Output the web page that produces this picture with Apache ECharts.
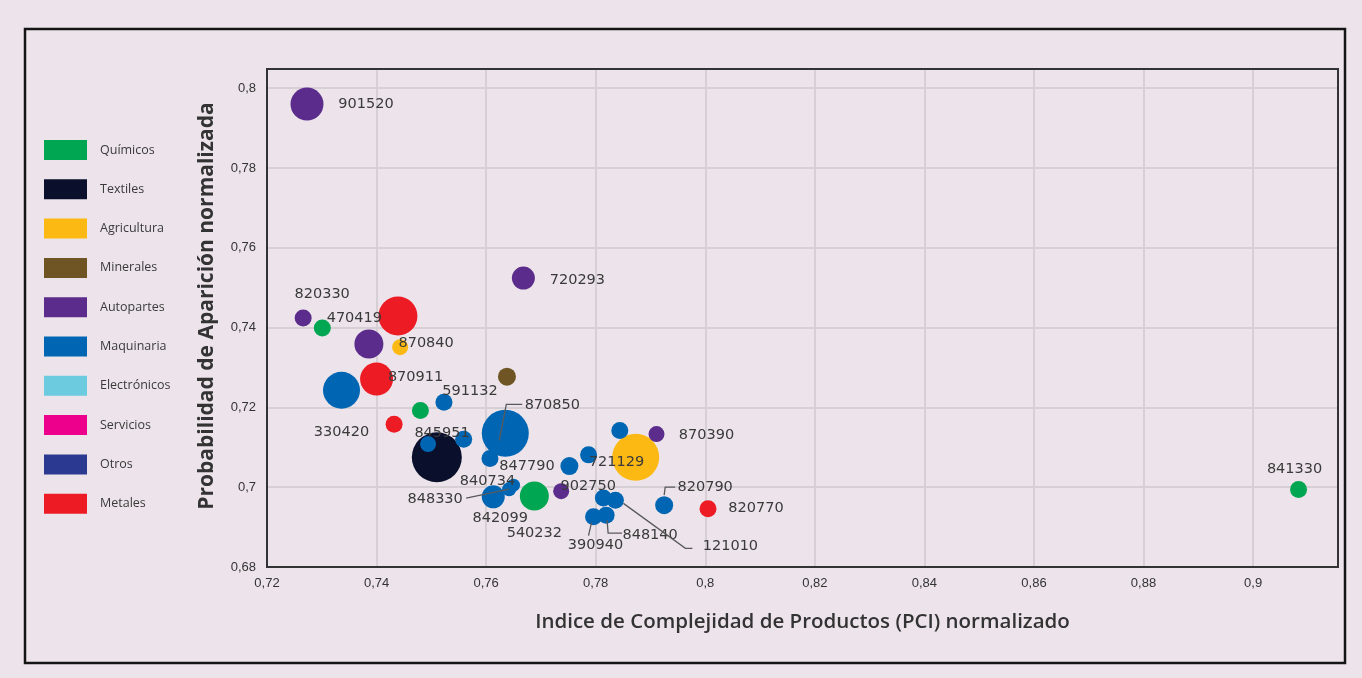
<!DOCTYPE html>
<html lang="es">
<head>
<meta charset="utf-8">
<title>Complejidad vs probabilidad de aparición</title>
<script src="https://cdn.jsdelivr.net/npm/echarts@6/dist/echarts.min.js"></script>
<style>
  html, body { margin: 0; padding: 0; background: #ece4ea; }
  #chart { width: 1362px; height: 678px; }
</style>
</head>
<body>
<div id="chart"></div>
<script>
// Sectores y colores de la leyenda
const categorias = ['Químicos', 'Textiles', 'Agricultura', 'Minerales', 'Autopartes',
  'Maquinaria', 'Electrónicos', 'Servicios', 'Otros', 'Metales'];
const colores = ['#00a651', '#0a0f2c', '#fdb913', '#6e5523', '#5b2c8b',
  '#0066b3', '#6dcbdf', '#ec008c', '#2b3990', '#ed1c24'];

// Productos: código SA ('' = sin etiqueta), PCI normalizado, probabilidad normalizada, peso relativo, sector
const codigos = ['901520', '720293', '820330', '470419', '', '', '870840', '870911', '330420', '',
  '591132', '', '', '845951', '', '', '870850', '847790', '', '840734',
  '848330', '842099', '540232', '902750', '721129', '', '', '870390', '', '121010',
  '390940', '848140', '820790', '820770', '841330'];
const pci = [0.7273, 0.7668, 0.7266, 0.7301, 0.7439, 0.7386, 0.7443, 0.7400, 0.7336, 0.7638,
  0.7523, 0.7480, 0.7432, 0.7494, 0.7510, 0.7559, 0.7635, 0.7607, 0.7752, 0.7650,
  0.7642, 0.7613, 0.7688, 0.7737, 0.7787, 0.7844, 0.7873, 0.7911, 0.7814, 0.7836,
  0.7796, 0.7819, 0.7925, 0.8005, 0.9083];
const probabilidad = [0.7960, 0.7524, 0.7424, 0.7399, 0.7429, 0.7359, 0.7351, 0.7271, 0.7243, 0.7277,
  0.7213, 0.7192, 0.7158, 0.7108, 0.7075, 0.7120, 0.7135, 0.7072, 0.7053, 0.7005,
  0.6995, 0.6976, 0.6978, 0.6990, 0.7081, 0.7142, 0.7075, 0.7133, 0.6973, 0.6967,
  0.6926, 0.6930, 0.6955, 0.6946, 0.6994];
const peso = [10.89, 5.29, 2.89, 2.89, 15.21, 8.41, 2.56, 10.89, 13.69, 3.24,
  2.89, 2.89, 2.89, 2.56, 25.0, 2.89, 22.09, 2.89, 3.24, 1.69,
  1.96, 5.29, 8.41, 2.56, 2.89, 2.89, 22.09, 2.56, 2.89, 2.89,
  2.89, 2.89, 3.24, 2.89, 2.89];
const sector = ['Autopartes', 'Autopartes', 'Autopartes', 'Químicos', 'Metales', 'Autopartes', 'Agricultura', 'Metales', 'Maquinaria', 'Minerales',
  'Maquinaria', 'Químicos', 'Metales', 'Maquinaria', 'Textiles', 'Maquinaria', 'Maquinaria', 'Maquinaria', 'Maquinaria', 'Maquinaria',
  'Maquinaria', 'Maquinaria', 'Químicos', 'Autopartes', 'Maquinaria', 'Maquinaria', 'Agricultura', 'Autopartes', 'Maquinaria', 'Maquinaria',
  'Maquinaria', 'Maquinaria', 'Maquinaria', 'Metales', 'Químicos'];

// Ejes
const xTicks = { min: 0.72, max: 0.9155, step: 0.02 };
const yTicks = { min: 0.68, max: 0.8048, step: 0.02 };
const tituloX = 'Indice de Complejidad de Productos (PCI) normalizado';
const tituloY = 'Probabilidad de Aparición normalizada';

// Desplazamiento de cada etiqueta respecto al centro de su burbuja (px)
const desplazamientoEtiqueta = {
  '901520': [59, 0], '720293': [54, 2], '820330': [19, -24], '470419': [32, -10],
  '870840': [26, -4], '870911': [39, -2], '591132': [26, -11], '330420': [0, 42],
  '845951': [14, -11], '870850': [47, -28], '847790': [37, 8], '840734': [-26, -4],
  '848330': [-74, 10], '842099': [7, 21], '540232': [0, 37], '902750': [27, -5],
  '721129': [28, 7], '870390': [50, 1], '390940': [2, 29], '848140': [44, 20],
  '121010': [115, 46], '820790': [41, -18], '820770': [48, -1], '841330': [-4, -20]
};
// Líneas guía (px, relativas al centro de la burbuja)
const lineasGuia = {
  '870850': [[-6, 7], [1, -29], [17, -29]],
  '848330': [[0, 0], [-43, 9]],
  '390940': [[-2, 6], [-5, 19]],
  '848140': [[1, 5], [2, 18], [16, 18]],
  '121010': [[8, 3], [70, 48], [77, 48]],
  '820790': [[0, -10], [1, -18], [11, -18]]
};

// Área de trazado
const area = { left: 267, top: 69, right: 1338, bottom: 567 };

const fmtComa = v => {
  const r = Math.round(v * 100) / 100;
  if (Math.abs(r - v) > 1e-6) return '';
  return String(r).replace('.', ',');
};

const seriesSectores = categorias.map((cat, ci) => {
  const data = [];
  codigos.forEach((code, i) => {
    if (sector[i] !== cat) return;
    const off = desplazamientoEtiqueta[code];
    data.push({
      name: code,
      value: [pci[i], probabilidad[i], peso[i]],
      label: { show: !!code, offset: off || [0, 0] }
    });
  });
  return {
    name: cat,
    type: 'scatter',
    data: data,
    symbol: 'circle',
    symbolSize: v => Math.sqrt(v[2]) * 10,
    itemStyle: { color: colores[ci], opacity: 1 },
    label: {
      position: 'inside',
      formatter: p => p.name,
      color: '#3a3a3a',
      fontFamily: 'DejaVu Sans',
      fontSize: 14.5
    },
    emphasis: { disabled: true },
    z: 3
  };
});

const guiaData = [];
codigos.forEach((code, i) => {
  if (lineasGuia[code]) guiaData.push({ name: code, value: [pci[i], probabilidad[i]] });
});

const seriesGuias = {
  type: 'custom',
  name: 'guias',
  silent: true,
  z: 4,
  data: guiaData,
  renderItem: (params, api) => {
    const c = api.coord([api.value(0), api.value(1)]);
    const code = guiaData[params.dataIndex].name;
    const pts = lineasGuia[code].map(o => [c[0] + o[0], c[1] + o[1]]);
    return {
      type: 'polyline',
      shape: { points: pts },
      style: { stroke: '#5a5a5a', lineWidth: 1.3, fill: null }
    };
  }
};

const chart = echarts.init(document.getElementById('chart'), null, { renderer: 'canvas' });
chart.setOption({
  backgroundColor: '#ece4ea',
  animation: false,
  color: colores,
  grid: {
    left: area.left, top: area.top, right: 1362 - area.right, bottom: 678 - area.bottom,
    show: false
  },
  legend: {
    data: categorias,
    orient: 'vertical',
    left: 44, top: 140, padding: 0,
    itemWidth: 43, itemHeight: 20, itemGap: 19.3,
    icon: 'rect',
    selectedMode: false,
    textStyle: { fontFamily: 'Open Sans', fontSize: 12.5, color: '#3a3a3a', padding: [0, 0, 0, 8] }
  },
  xAxis: {
    type: 'value',
    min: xTicks.min, max: xTicks.max, interval: xTicks.step,
    axisLine: { show: false },
    axisTick: { show: false },
    axisLabel: { formatter: fmtComa, showMaxLabel: false, margin: 10,
      fontFamily: 'Liberation Sans', fontSize: 13, color: '#333' },
    splitLine: { lineStyle: { color: '#d6cfd4', width: 2 } }
  },
  yAxis: {
    type: 'value',
    min: yTicks.min, max: yTicks.max, interval: yTicks.step,
    axisLine: { show: false },
    axisTick: { show: false },
    axisLabel: { formatter: fmtComa, showMaxLabel: false, margin: 11,
      fontFamily: 'Liberation Sans', fontSize: 13, color: '#333' },
    splitLine: { lineStyle: { color: '#d6cfd4', width: 2 } }
  },
  graphic: [
    {
      type: 'rect',
      shape: { x: area.left, y: area.top, width: area.right - area.left, height: area.bottom - area.top },
      style: { fill: null, stroke: '#333', lineWidth: 2 },
      silent: true, z: 2
    },
    {
      type: 'rect',
      shape: { x: 25, y: 29, width: 1320, height: 634 },
      style: { fill: null, stroke: '#151515', lineWidth: 2.5 },
      silent: true, z: 10
    },
    {
      type: 'text',
      x: (area.left + area.right) / 2, y: 622,
      style: { text: tituloX, fill: '#333', fontFamily: 'Open Sans', fontWeight: 600, fontSize: 20.5,
        textAlign: 'center', textVerticalAlign: 'middle' },
      silent: true
    },
    {
      type: 'text',
      x: 207, y: 306, rotation: Math.PI / 2,
      style: { text: tituloY, fill: '#333', fontFamily: 'Open Sans', fontWeight: 700, fontSize: 21,
        textAlign: 'center', textVerticalAlign: 'middle' },
      silent: true
    }
  ],
  series: seriesSectores.concat([seriesGuias])
});
</script>
</body>
</html>
